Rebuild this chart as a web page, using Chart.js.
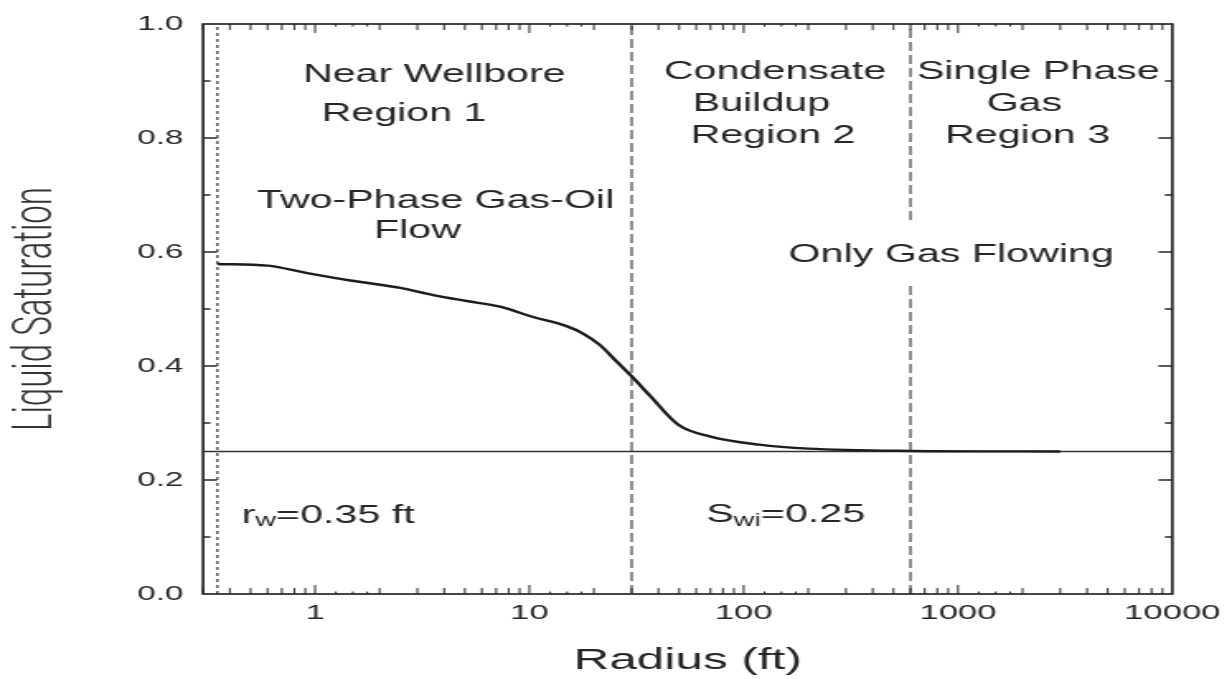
<!DOCTYPE html>
<html>
<head>
<meta charset="utf-8">
<title>Liquid Saturation vs Radius</title>
<script src="https://cdn.jsdelivr.net/npm/chart.js@4.4.0/dist/chart.umd.min.js"></script>
<style>
  html, body { margin: 0; padding: 0; background: #fff; }
</style>
</head>
<body>
<!-- drawn on a narrower canvas and stretched sideways, like the scanned figure -->
<canvas id="satChart" width="747" height="679" style="display:block;width:1232px;height:679px"></canvas>
<script>
// Liquid saturation profile around the well
const radius = [0.35, 0.6, 0.92, 1.46, 2.5, 3.6, 5.1, 7.3, 10.4, 14.9, 17.8, 21.3, 25.5, 30.5, 36.5, 49.5, 70, 118, 200, 600, 3000];
const saturation = [0.579, 0.576, 0.563, 0.550, 0.537, 0.524, 0.514, 0.504, 0.486, 0.470, 0.457, 0.437, 0.408, 0.379, 0.348, 0.297, 0.276, 0.262, 0.255, 0.251, 0.250];

const wellRadius = 0.35;          // rw
const regionEdges = [30, 600];    // region 1/2 and region 2/3 boundaries
const region3Gap = [0.541, 0.656]; // boundary line is broken here
const swi = 0.25;

const xRange = [0.3, 10000];
const xTickLabels = [1, 10, 100, 1000, 10000];
const yTickLabels = [0, 0.2, 0.4, 0.6, 0.8, 1.0];

// Text inside the plot, anchored in data units (radius, saturation)
const noteText = ['Near Wellbore', 'Region 1', 'Two-Phase Gas-Oil', 'Flow',
    'Condensate', 'Buildup', 'Region 2',
    'Single Phase', 'Gas', 'Region 3',
    'Only Gas Flowing', 'r_{w}=0.35 ft', 'S_{wi}=0.25'];
const noteRadius = [3.6, 2.6, 3.65, 3.0, 140, 121, 137, 2370, 2040, 2110, 930, 1.15, 157];
const noteSat = [0.911, 0.842, 0.690, 0.637, 0.915, 0.859, 0.803, 0.915, 0.859, 0.803, 0.594, 0.137, 0.138];

const INK = '#262626';
const FONT = "'Liberation Sans', Arial, sans-serif";

// Draws a string, with _{...} parts set as subscripts, centred on (cx, cy)
function drawRich(ctx, text, cx, cy, size) {
    const parts = text.split(/(_\{[^}]*\})/).filter(p => p.length);
    const segs = parts.map(p => {
        const sub = p.startsWith('_{');
        const str = sub ? p.slice(2, -1) : p;
        const font = (sub ? size * 0.7 : size) + 'px ' + FONT;
        ctx.font = font;
        return { str, sub, font, w: ctx.measureText(str).width };
    });
    let x = cx - segs.reduce((s, g) => s + g.w, 0) / 2;
    segs.forEach(g => {
        ctx.font = g.font;
        ctx.fillText(g.str, x, g.sub ? cy + size * 0.22 : cy);
        x += g.w;
    });
}

const notes = {
    id: 'notes',
    afterDatasetsDraw(chart) {
        const { ctx, scales: { x, y } } = chart;
        ctx.save();
        ctx.fillStyle = INK;
        ctx.textAlign = 'left';
        ctx.textBaseline = 'middle';
        noteText.forEach((t, i) => {
            drawRich(ctx, t, x.getPixelForValue(noteRadius[i]), y.getPixelForValue(noteSat[i]), 25);
        });
        ctx.restore();
    }
};

// Box frame with inward ticks on all four sides
const frameTicks = {
    id: 'frameTicks',
    afterDraw(chart) {
        const { ctx, chartArea: a, scales: { x, y } } = chart;
        ctx.save();
        ctx.strokeStyle = INK;

        // log ticks: decades long, 2..9 medium, quarter steps between 1 and 2 short
        ctx.lineWidth = 1;
        const xMarks = [];
        xTickLabels.forEach(v => xMarks.push([v, 9]));
        [0.1, 1, 10, 100, 1000].forEach(d => {
            [2, 3, 4, 5, 6, 7, 8, 9].forEach(m => xMarks.push([d * m, 6]));
            [1.25, 1.5, 1.75].forEach(m => xMarks.push([d * m, 2.5]));
        });
        xMarks.forEach(([v, len]) => {
            if (v <= xRange[0] || v >= xRange[1]) return;
            const px = x.getPixelForValue(v);
            ctx.beginPath();
            ctx.moveTo(px, a.bottom); ctx.lineTo(px, a.bottom - len);
            ctx.moveTo(px, a.top); ctx.lineTo(px, a.top + len);
            ctx.stroke();
        });

        ctx.lineWidth = 1.5;
        for (let i = 1; i < 10; i++) {
            const py = y.getPixelForValue(i / 10);
            const len = i % 2 === 0 ? 8.5 : 4.5;
            ctx.beginPath();
            ctx.moveTo(a.left, py); ctx.lineTo(a.left + len, py);
            ctx.moveTo(a.right, py); ctx.lineTo(a.right - len, py);
            ctx.stroke();
        }

        ctx.lineWidth = 1.7;
        ctx.strokeRect(a.left, a.top, a.right - a.left, a.bottom - a.top);
        ctx.restore();
    }
};

const vLine = (r, lo, hi) => [{ x: r, y: lo }, { x: r, y: hi }];

new Chart(document.getElementById('satChart'), {
    type: 'line',
    data: {
        datasets: [
            {
                label: 'Liquid saturation',
                data: radius.map((r, i) => ({ x: r, y: saturation[i] })),
                borderColor: '#1c1c1c',
                borderWidth: 2.4,
                tension: 0.4,
                cubicInterpolationMode: 'monotone',
                pointRadius: 0
            },
            {
                label: 'Swi',
                data: [{ x: xRange[0], y: swi }, { x: xRange[1], y: swi }],
                borderColor: '#333',
                borderWidth: 1.3,
                pointRadius: 0
            },
            {
                label: 'rw',
                data: vLine(wellRadius, 0, 1),
                borderColor: '#444',
                borderWidth: 1.3,
                borderDash: [3, 3],
                pointRadius: 0
            },
            {
                label: 'Region 1/2',
                data: vLine(regionEdges[0], 0, 1),
                borderColor: '#444',
                borderWidth: 1.2,
                borderDash: [9, 4],
                pointRadius: 0
            },
            {
                label: 'Region 2/3',
                data: [...vLine(regionEdges[1], 0, region3Gap[0]), { x: regionEdges[1], y: null },
                       ...vLine(regionEdges[1], region3Gap[1], 1)],
                borderColor: '#444',
                borderWidth: 1.2,
                borderDash: [9, 4],
                spanGaps: false,
                pointRadius: 0
            }
        ]
    },
    options: {
        responsive: false,
        animation: false,
        events: [],
        layout: { padding: { left: 0, top: 15, right: 35.8, bottom: 0 } },
        plugins: {
            legend: { display: false },
            tooltip: { enabled: false }
        },
        scales: {
            x: {
                type: 'logarithmic',
                min: xRange[0],
                max: xRange[1],
                afterBuildTicks: s => { s.ticks = xTickLabels.map(v => ({ value: v })); },
                afterFit: s => { s.height = 85; },
                grid: { display: false, drawTicks: false },
                border: { display: false },
                ticks: {
                    autoSkip: false,
                    maxRotation: 0,
                    padding: 7,
                    color: INK,
                    font: { family: FONT, size: 21 },
                    callback: v => String(v)
                },
                title: {
                    display: true,
                    text: 'Radius (ft)',
                    color: INK,
                    font: { family: FONT, size: 30 },
                    padding: { top: 0, bottom: 0 }
                }
            },
            y: {
                min: 0,
                max: 1,
                afterBuildTicks: s => { s.ticks = yTickLabels.map(v => ({ value: v })); },
                afterFit: s => { s.width = 123.1; },
                grid: { display: false, drawTicks: false },
                border: { display: false },
                ticks: {
                    padding: 12,
                    color: INK,
                    font: { family: FONT, size: 20 },
                    callback: v => v.toFixed(1)
                },
                title: {
                    display: true,
                    text: 'Liquid Saturation',
                    color: '#333',
                    font: { family: "Roboto, 'Liberation Sans', sans-serif", size: 33, weight: '300' },
                    padding: { top: 3, bottom: 0 }
                }
            }
        }
    },
    plugins: [notes, frameTicks]
});
</script>
</body>
</html>
